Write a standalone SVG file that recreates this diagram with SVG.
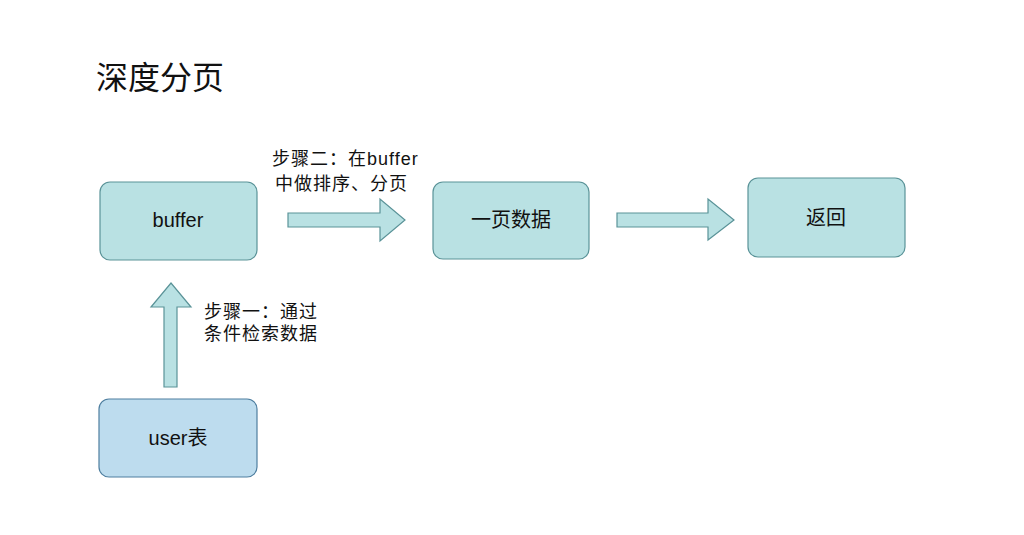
<svg xmlns="http://www.w3.org/2000/svg" width="1024" height="535" viewBox="0 0 1024 535">
<style>
text{font-family:"Liberation Sans","Noto Sans CJK SC",sans-serif;fill:#111}
.box{fill:#b9e1e3;stroke:#5a9398;stroke-width:1.2}
.ubox{fill:#bddcee;stroke:#4f7fa0;stroke-width:1.2}
.arr{fill:#b9e1e3;stroke:#5a9398;stroke-width:1.2}
.lbl{font-size:18px;letter-spacing:1px}
.nd{font-size:20px;text-anchor:middle;dominant-baseline:central}
</style>
<rect width="1024" height="535" fill="#fff"/>
<text x="96" y="89" font-size="32">深度分页</text>
<g id="connectors">
<polygon class="arr" points="288,213 380,213 380,199 405,220 380,241 380,227 288,227"/>
<polygon class="arr" points="617,213 708,213 708,199 734,220 708,240 708,227 617,227"/>
<polygon class="arr" points="164,387 164,307 151,307 171,283 191,307 177,307 177,387"/>
<text class="lbl" x="272" y="165">步骤二：在buffer</text>
<text class="lbl" x="275" y="190">中做排序、分页</text>
<text class="lbl" x="204" y="318">步骤一：通过</text>
<text class="lbl" x="204" y="340">条件检索数据</text>
</g>
<g id="buffer"><rect class="box" x="100" y="182" width="157" height="78" rx="10"/><text class="nd" x="178" y="220">buffer</text></g>
<g id="page"><rect class="box" x="433" y="182" width="156" height="77" rx="10"/><text class="nd" x="511" y="220">一页数据</text></g>
<g id="ret"><rect class="box" x="748" y="178" width="157" height="79" rx="10"/><text class="nd" x="826" y="218">返回</text></g>
<g id="user"><rect class="ubox" x="99" y="399" width="158" height="78" rx="10"/><text class="nd" x="178" y="438">user表</text></g>
</svg>
